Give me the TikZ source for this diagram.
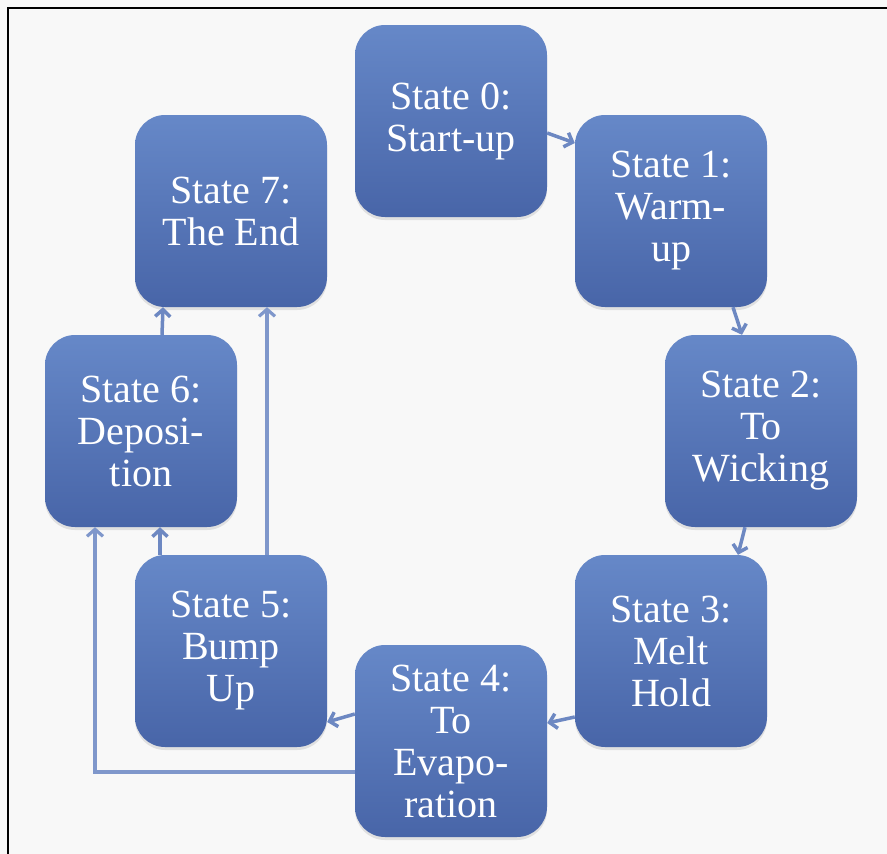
\documentclass[tikz,border=0pt]{standalone}
\usepackage{fontspec}
\setmainfont{Liberation Serif}
\usetikzlibrary{arrows.meta,shadows,calc}
\definecolor{bg}{HTML}{F8F8F8}
\definecolor{boxtop}{HTML}{6688C8}
\definecolor{boxbot}{HTML}{4865A8}
\definecolor{arr}{HTML}{6D88C2}
\definecolor{arrlong}{HTML}{7F97CB}
\begin{document}
\begin{tikzpicture}[x=1pt,y=-1pt,
  statebox/.style={rounded corners=30pt, minimum width=192pt, minimum height=192pt,
    top color=boxtop, bottom color=boxbot, draw=none, text=white, align=center,
    font=\fontsize{40}{42}\selectfont, inner sep=0pt,
    drop shadow={shadow xshift=0pt, shadow yshift=-3pt, opacity=0.2}},
  shortarr/.style={draw=arr, line width=3.5pt, -{Straight Barb[length=7pt,width=15pt]}},
  longarr/.style={draw=arrlong, line width=3.2pt, -{Straight Barb[length=7pt,width=16pt]}}]
\fill[bg] (0,0) rectangle (887,854);
\useasboundingbox (0,0) rectangle (887,854);
\draw[black, line width=1.5pt] (8,854) -- (8,8) -- (887,8);

\node[statebox] (s0) at (451,121) {State 0:\\Start-up};
\node[statebox] (s1) at (671,211) {State 1:\\Warm-\\up};
\node[statebox] (s2) at (761,431) {State 2:\\To\\Wicking};
\node[statebox] (s3) at (671,651) {State 3:\\Melt\\Hold};
\node[statebox] (s4) at (451,741) {State 4:\\To\\Evapo-\\ration};
\node[statebox] (s5) at (231,651) {State 5:\\Bump\\Up};
\node[statebox] (s6) at (141,431) {State 6:\\Deposi-\\tion};
\node[statebox] (s7) at (231,211) {State 7:\\The End};

\draw[shortarr] ([yshift=-12pt]s0.east) -- ([yshift=68pt]s1.west);
\draw[shortarr] ([xshift=62pt]s1.south) -- ([xshift=-19pt]s2.north);
\draw[shortarr] ([xshift=-16pt]s2.south) -- ([xshift=67pt]s3.north);
\draw[shortarr] ([yshift=-66pt]s3.west) -- ([yshift=18pt]s4.east);
\draw[shortarr] ([yshift=27pt]s4.west) -- ([yshift=-71pt]s5.east);
\draw[shortarr] ([xshift=-71pt]s5.north) -- ([xshift=19pt]s6.south);
\draw[shortarr] ([xshift=21pt]s6.north) -- ([xshift=-68pt]s7.south);

\draw[longarr] ([xshift=36pt]s5.north) -- ([xshift=36pt]s7.south);
\draw[longarr] ([yshift=-31pt]s4.west) -| ([xshift=-46pt]s6.south);
\end{tikzpicture}
\end{document}
